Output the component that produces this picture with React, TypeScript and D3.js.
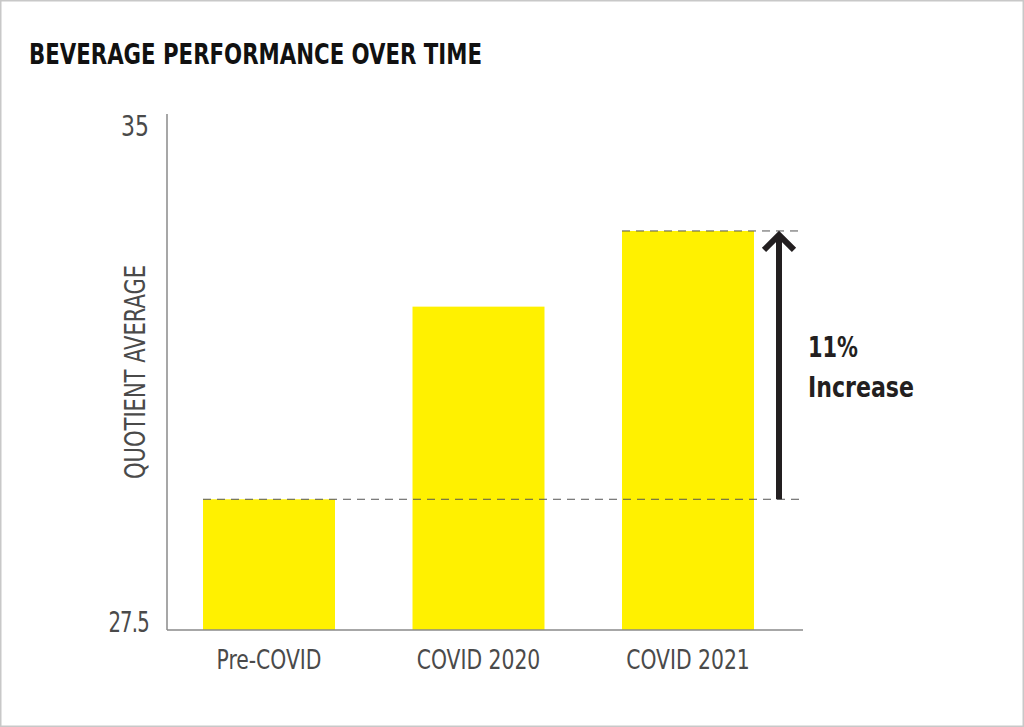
import React from "react";
import * as d3 from "d3";

const categories = ["Pre-COVID", "COVID 2020", "COVID 2021"];
const values = [29.4, 32.2, 33.3];
const yTicks = [27.5, 35];
const title = "BEVERAGE PERFORMANCE OVER TIME";
const yLabel = "QUOTIENT AVERAGE";
const annotation = ["11%", "Increase"];

const W = 1024;
const H = 727;
const FONT = "'Liberation Sans Narrow', 'DejaVu Sans Condensed', 'Roboto', sans-serif";

export default function App() {
  const axisX = 167;
  const axisRight = 803;
  const yTop = 114;
  const yBottom = 630;

  const x = d3
    .scaleBand<string>()
    .domain(categories)
    .range([167.4, 789.6])
    .paddingInner(0.37)
    .paddingOuter(0.17);
  const y = d3.scaleLinear().domain([27.5, 35]).range([yBottom, yTop]);

  const baseVal = values[0];
  const topVal = values[2];
  const arrowX = 779;
  const yBase = y(baseVal);
  const yTopVal = y(topVal);

  const sx = 0.87;

  return (
    <svg
      width={W}
      height={H}
      style={{ position: "fixed", left: 0, top: 0, background: "#fff" }}
    >
      <rect x={0.75} y={0.75} width={W - 1.5} height={H - 1.5} fill="#fff" stroke="#c8c8c8" strokeWidth={1.5} />
      <text
        x={29}
        y={64}
        fontFamily={FONT}
        fontWeight="bold"
        fontSize={28}
        fill="#111"
        textLength={453}
        lengthAdjust="spacingAndGlyphs"
      >
        {title}
      </text>

      {categories.map((c, i) => (
        <rect
          key={c}
          x={x(c)}
          y={y(values[i])}
          width={x.bandwidth()}
          height={yBottom - y(values[i])}
          fill="#FFF100"
        />
      ))}

      {/* axes */}
      <line x1={axisX} x2={axisX} y1={yTop} y2={yBottom} stroke="#8a8a8a" strokeWidth={1.5} />
      <line x1={axisX} x2={axisRight} y1={yBottom} y2={yBottom} stroke="#8a8a8a" strokeWidth={1.5} />

      {yTicks.map((t, i) => (
        <g key={t} transform={`translate(149, ${i === 0 ? y(t) + 2 : y(t) + 22}) scale(${i === 0 ? 0.78 : sx}, 1)`}>
          <text textAnchor="end" fontFamily={FONT} fontSize={28} fill="#4a4a4a" letterSpacing={i === 0 ? -1 : 0}>
            {String(t)}
          </text>
        </g>
      ))}

      <text
        transform={`translate(144.5, 372) rotate(-90)`}
        textAnchor="middle"
        fontFamily={FONT}
        fontSize={28}
        fill="#4a4a4a"
        textLength={214}
        lengthAdjust="spacingAndGlyphs"
      >
        {yLabel}
      </text>

      {categories.map((c) => (
        <g key={c} transform={`translate(${(x(c) ?? 0) + x.bandwidth() / 2}, 669) scale(${sx}, 1)`}>
          <text textAnchor="middle" fontFamily={FONT} fontSize={26} fill="#4a4a4a">
            {c}
          </text>
        </g>
      ))}

      {/* dashed reference lines */}
      <line
        x1={x(categories[0])}
        x2={axisRight}
        y1={yBase}
        y2={yBase}
        stroke="#555"
        strokeWidth={1}
        strokeDasharray="8,6"
      />
      <line
        x1={x(categories[2])}
        x2={axisRight}
        y1={yTopVal}
        y2={yTopVal}
        stroke="#555"
        strokeWidth={1}
        strokeDasharray="8,6"
      />

      {/* arrow */}
      <line x1={arrowX} x2={arrowX} y1={yBase} y2={yTopVal + 3} stroke="#231f20" strokeWidth={6} />
      <polyline
        points={`${arrowX - 15},${yTopVal + 19} ${arrowX},${yTopVal + 4} ${arrowX + 15},${yTopVal + 19}`}
        fill="none"
        stroke="#231f20"
        strokeWidth={6}
        strokeLinejoin="miter"
      />

      <text
        x={808}
        y={357}
        fontFamily={FONT}
        fontWeight="bold"
        fontSize={28}
        fill="#231f20"
        textLength={50}
        lengthAdjust="spacingAndGlyphs"
      >
        {annotation[0]}
      </text>
      <text
        x={808}
        y={397}
        fontFamily={FONT}
        fontWeight="bold"
        fontSize={28}
        fill="#231f20"
        textLength={106}
        lengthAdjust="spacingAndGlyphs"
      >
        {annotation[1]}
      </text>
    </svg>
  );
}
